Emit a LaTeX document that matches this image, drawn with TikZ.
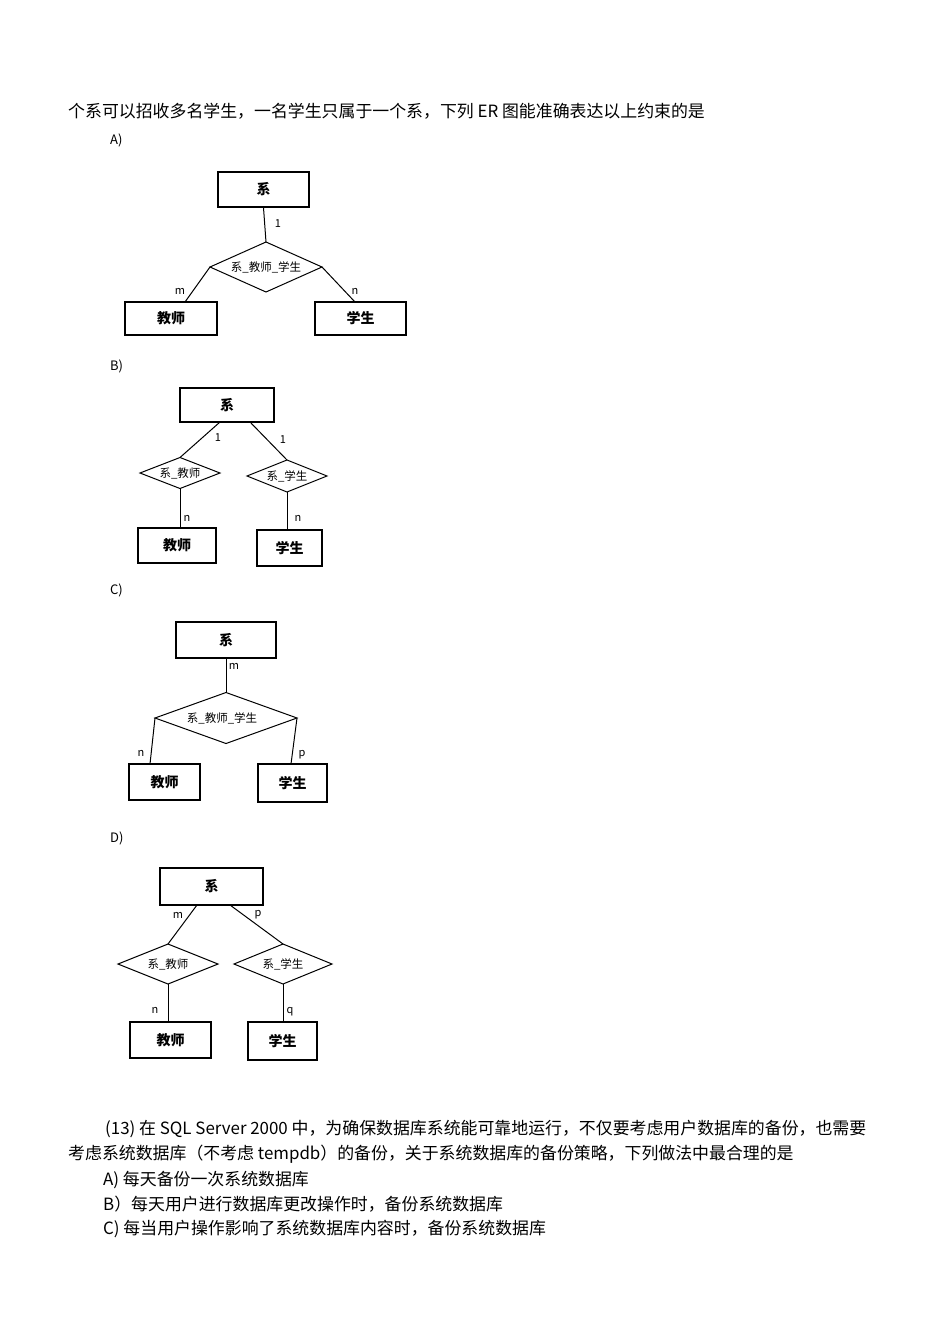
\documentclass[tikz,border=0pt]{standalone}
\usepackage{fontspec}
\setmainfont{Noto Sans CJK SC}
\newfontfamily\dgm{Noto Sans CJK SC}
\begin{document}
\begin{tikzpicture}[x=1pt,y=-1pt,
  ent/.style={draw,line width=1.3pt,inner sep=0pt,font=\dgm\fontsize{14}{14}\selectfont\bfseries},
  lbl/.style={font=\fontsize{11}{11}\selectfont,inner sep=1pt},
  ln/.style={line width=1pt},
  txt/.style={anchor=west,inner sep=0pt,font=\fontsize{16.9}{17}\selectfont},
  dtxt/.style={font=\dgm\fontsize{11.5}{12}\selectfont,inner sep=0pt}]
\useasboundingbox (0,0) rectangle (950,1344);
\newcommand{\dia}[5]{% name, cx, cy, halfw, halfh
  \coordinate (#1-n) at (#2,#3-#5);
  \coordinate (#1-s) at (#2,#3+#5);
  \coordinate (#1-w) at (#2-#4,#3);
  \coordinate (#1-e) at (#2+#4,#3);
  \draw[ln] (#1-n)--(#1-e)--(#1-s)--(#1-w)--cycle;}
\node[txt] (q) at (68,111) {个系可以招收多名学生，一名学生只属于一个系，下列 ER 图能准确表达以上约束的是};
% A
\node[txt,font=\fontsize{13}{13}\selectfont] (la) at (110,140) {A)};
\node[ent,minimum width=91,minimum height=35] (a1) at (263.5,189.5) {系};
\dia{ad}{266}{267}{56}{25}
\node[dtxt] (adt) at (266,267) {系\_教师\_学生};
\node[ent,minimum width=92,minimum height=33] (a2) at (171,318.5) {教师};
\node[ent,minimum width=91,minimum height=33] (a3) at (360.5,318.5) {学生};
\draw[ln] (a1.south) -- (ad-n);
\draw[ln] (ad-w) -- (185,302);
\draw[ln] (ad-e) -- (355,302);
\node[lbl] (a1l) at (278,224) {1};
\node[lbl] (a2l) at (180,291) {m};
\node[lbl] (a3l) at (355,291) {n};
% B
\node[txt,font=\fontsize{13}{13}\selectfont] (lb) at (110,366) {B)};
\node[ent,minimum width=94,minimum height=34] (b1) at (227,405) {系};
\dia{bd1}{180}{473}{40}{15.5}
\node[dtxt] (bt1) at (180,473) {系\_教师};
\dia{bd2}{287}{476}{40}{16}
\node[dtxt] (bt2) at (287,476) {系\_学生};
\node[ent,minimum width=78,minimum height=35] (b2) at (177,545.5) {教师};
\node[ent,minimum width=65,minimum height=36] (b3) at (289.5,548) {学生};
\draw[ln] (220,422) -- (bd1-n);
\draw[ln] (250,422) -- (bd2-n);
\draw[ln] (bd1-s) -- (180,528);
\draw[ln] (bd2-s) -- (287,530);
\node[lbl] (b1l) at (218,438) {1};
\node[lbl] (b2l) at (283,440) {1};
\node[lbl] (b3l) at (187,518) {n};
\node[lbl] (b4l) at (298,518) {n};
% C
\node[txt,font=\fontsize{13}{13}\selectfont] (lc) at (110,590) {C)};
\node[ent,minimum width=100,minimum height=36] (c1) at (226,640) {系};
\dia{cd}{226}{718}{71}{25.5}
\node[dtxt] (ct) at (222,718) {系\_教师\_学生};
\node[ent,minimum width=71,minimum height=36] (c2) at (164.5,782) {教师};
\node[ent,minimum width=69,minimum height=38] (c3) at (292.5,783) {学生};
\draw[ln] (c1.south) -- (cd-n);
\draw[ln] (cd-w) -- (150,764);
\draw[ln] (cd-e) -- (291,764);
\node[lbl] (c1l) at (234,666) {m};
\node[lbl] (c2l) at (141,753) {n};
\node[lbl] (c3l) at (302,755) {p};
% D
\node[txt,font=\fontsize{13}{13}\selectfont] (ld) at (110,838) {D)};
\node[ent,minimum width=103,minimum height=37] (d1) at (211.5,886.5) {系};
\dia{dd1}{168}{964}{50}{20}
\node[dtxt] (dt1) at (168,964) {系\_教师};
\dia{dd2}{283}{964}{49}{20}
\node[dtxt] (dt2) at (283,964) {系\_学生};
\node[ent,minimum width=81,minimum height=36] (d2) at (170.5,1040) {教师};
\node[ent,minimum width=69,minimum height=38] (d3) at (282.5,1041) {学生};
\draw[ln] (197,905) -- (dd1-n);
\draw[ln] (230,905) -- (dd2-n);
\draw[ln] (dd1-s) -- (168,1022);
\draw[ln] (dd2-s) -- (283,1022);
\node[lbl] (d1l) at (178,915) {m};
\node[lbl] (d2l) at (258,915) {p};
\node[lbl] (d3l) at (155,1010) {n};
\node[lbl] (d4l) at (290,1012) {q};
% bottom text
\node[txt] (t1) at (105,1129) {(13) 在 SQL Server 2000 中，为确保数据库系统能可靠地运行，不仅要考虑用户数据库的备份，也需要};
\node[txt] (t2) at (68,1154) {考虑系统数据库（不考虑 tempdb）的备份，关于系统数据库的备份策略，下列做法中最合理的是};
\node[txt] (t3) at (103,1180) {A) 每天备份一次系统数据库};
\node[txt] (t4) at (103,1204) {B）每天用户进行数据库更改操作时，备份系统数据库};
\node[txt] (t5) at (103,1229) {C) 每当用户操作影响了系统数据库内容时，备份系统数据库};
\end{tikzpicture}
\end{document}
